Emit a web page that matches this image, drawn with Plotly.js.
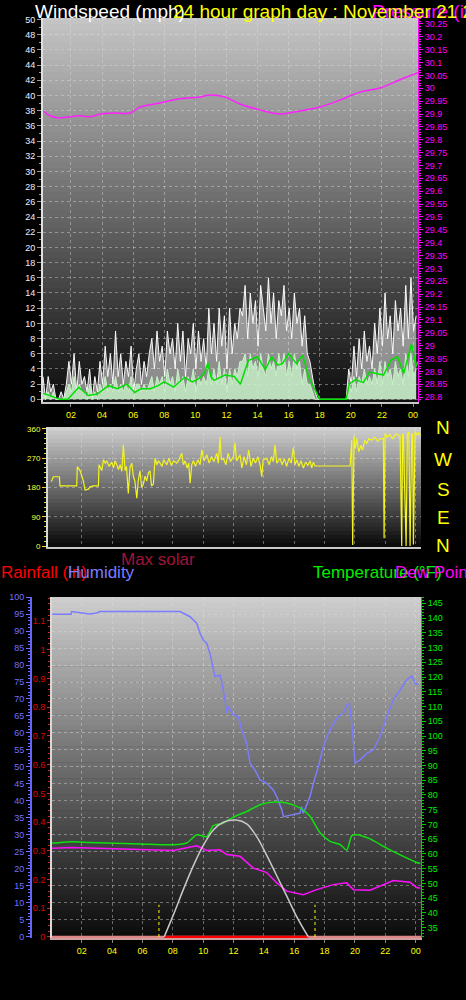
<!DOCTYPE html>
<html><head><meta charset="utf-8">
<script src="https://cdn.plot.ly/plotly-3.0.1.min.js"></script>
<style>html,body{margin:0;padding:0;background:#000;overflow:hidden}#chart{width:466px;height:1000px}</style>
</head><body><div id="chart"></div>
<script>
// ---------- tick labels ----------
const hourTicks = [2,4,6,8,10,12,14,16,18,20,22,24];
const hourLabels = ["02","04","06","08","10","12","14","16","18","20","22","00"];
const dirTicks = [0,90,180,270,360];
const compassLabels = ["N","W","S","E","N"];

// ---------- panel 1: wind (10-minute samples starting 00:12) ----------
const windStartHour = 0.2;
const windStepHour = 1/6;
const windGust = [3,0,3,1,2,0, 0,1,0,2, 5,2,6,1,5,2, 3,1,4,0,3,1, 5,2,7,3,6,2,9,3,
  6,2,5,3,7,1,4,6,2,5,3,6,
  8,4,9,5,7,3,9,6,8,4,10,5,9,3,8,6,10,4,9,5,8,4,
  12,6,10,5,12,7,11,4,12,6,10,8,12,
  11,15,8,14,10,13,7,15,12,9,16,10,14,8,13,11,15,9,12,8,14,10,12,7,11,6,
  5,3,1,0, 0,0,0,0,0,0,0,0,0,0,0,
  4,2,7,3,8,4,9,5,7,4,
  10,6,12,7,14,8,11,6,13,9,12,7,15,8,16,9,11];
const windSpeed = [1,0,1,0,1,0, 0,0,0,1, 2,1,3,1,2,1, 1,0,2,0,1,0, 2,1,3,1,2,1,3,1,
  2,1,2,1,3,0,2,2,1,2,1,2,
  3,1,3,2,3,1,4,2,3,1,4,2,3,1,3,2,4,1,3,2,3,2,
  4,2,4,2,5,2,4,1,4,2,4,3,5,
  5,6,3,6,4,5,3,6,4,3,6,4,5,3,6,4,6,3,5,3,6,4,5,2,4,2,
  2,1,0,0, 0,0,0,0,0,0,0,0,0,0,0,
  2,1,3,1,3,2,4,2,3,2,
  4,2,5,2,5,3,4,2,5,3,4,2,6,3,6,3,4];
const windAvgHour = [0.2,0.6,1.0,1.3,1.8,2.5,3.1,3.7,4.4,5.0,5.6,6.1,6.5,7.1,7.6,8.0,8.6,9.3,9.8,10.2,10.6,10.8,11.0,11.2,11.9,12.5,12.9,13.4,14.0,14.5,14.9,15.3,15.6,16.0,16.5,16.9,17.3,17.8,18.0,19.7,19.9,20.3,20.8,21.2,21.7,22.1,22.6,23.0,23.4,23.9,24.2,24.3];
const windAvgValue = [0.8,0.5,0.3,0,0,1.6,0.5,0.7,1.8,1.4,2.0,0.9,1.4,1.4,1.8,2.3,1.6,2.9,2.3,2.7,3.5,4.8,3.0,2.5,3.2,3.0,2.0,5.1,5.6,3.9,5.6,4.5,4.7,6.0,4.7,5.8,2.9,0.9,0,0,2.0,2.6,2.2,3.6,3.4,3.2,5.2,5.6,3.4,7.3,4.3,5.0];
const pressureHour = [0.2,0.65,1.1,1.94,2.58,3.22,3.87,4.83,5.8,6.44,7.72,9.0,10.3,10.94,11.9,12.87,14.15,15.44,16.73,18.01,19.3,20.59,21.87,23.16,24.32];
const pressureValue = [29.912,29.893,29.885,29.889,29.893,29.889,29.900,29.904,29.904,29.927,29.943,29.959,29.966,29.974,29.966,29.939,29.916,29.900,29.912,29.927,29.954,29.985,30.001,30.033,30.060];

// ---------- panel 2: wind direction ----------
const dirHour = [0.0,0.13,0.53,0.57,1.67,1.71,1.89,2.11,2.22,2.44,2.55,2.77,3.10,3.14,3.32,3.43,3.55,3.65,3.8,3.98,4.1,4.2,4.31,4.42,4.53,4.65,4.74,4.86,4.95,5.07,5.18,5.3,5.4,5.5,5.63,5.72,5.84,5.95,6.06,6.17,6.28,6.39,6.5,6.6,6.72,6.83,6.95,7.05,7.16,7.3,7.4,7.6,7.75,7.9,8.05,8.26,8.4,8.59,8.7,8.81,8.95,9.05,9.14,9.25,9.36,9.5,9.65,9.8,9.91,10.05,10.24,10.4,10.55,10.7,10.9,11.0,11.11,11.2,11.33,11.5,11.65,11.8,12.0,12.1,12.2,12.43,12.55,12.7,12.85,13.0,13.15,13.3,13.45,13.6,13.75,13.86,13.95,14.19,14.35,14.5,14.62,14.74,14.85,15.07,15.2,15.35,15.5,15.65,15.8,15.94,16.05,16.17,16.3,16.45,16.6,16.75,16.9,17.05,17.15,17.26,17.37,19.68,19.79,19.85,19.94,20.02,20.12,20.25,20.4,20.5,20.65,20.78,20.9,21.1,21.3,21.5,21.65,21.87,21.92,21.98,22.1,22.3,22.5,22.7,22.97,23.08,23.14,23.19,23.37,23.45,23.55,23.63,23.74,23.8,23.85,23.96,24.1,24.2,24.33];
const dirValue = [198,213,213,185,185,244,232,200,172,175,182,185,185,250,232,265,255,262,245,258,240,262,250,235,250,230,311,232,245,162,240,255,215,200,147,200,231,180,190,215,200,225,231,185,190,270,250,262,255,245,265,250,270,248,262,255,265,285,250,262,240,255,193,250,262,245,265,250,296,262,280,255,275,260,285,255,336,265,270,250,285,260,275,318,262,280,240,275,250,295,245,270,255,275,250,213,265,270,250,275,260,311,255,270,250,268,245,270,255,303,250,265,245,262,240,258,248,262,240,258,246,246,326,3,339,300,330,290,310,295,325,315,330,325,335,322,330,330,24,347,335,342,330,345,338,0,345,340,0,345,350,0,347,340,5,352,340,348,338];

// ---------- panel 3 ----------
const humHour = [0.05,1.3,1.34,2.1,2.5,2.99,3.2,8.48,8.70,9.14,9.58,9.80,10.02,10.24,10.45,10.67,10.78,11.11,11.22,11.44,11.55,11.66,11.99,12.32,12.54,12.87,13.09,13.42,13.75,14.19,14.63,14.85,15.18,15.29,15.94,16.38,16.49,16.60,16.82,17.04,17.26,17.59,17.92,18.25,18.58,18.91,19.24,19.46,19.63,19.79,20.01,20.34,20.78,21.21,21.65,22.09,22.53,22.97,23.41,23.74,23.96,24.18];
const humValue = [94.9,94.9,95.7,95.2,95.0,95.3,95.7,95.7,95.2,94.2,92.2,89.3,87.3,86.4,83.4,78.5,76.6,77.0,75.1,69.7,65.8,67.8,65.3,64.8,60.9,57.0,51.1,49.1,46.2,45.2,43.2,41.3,37.4,35.4,35.9,36.4,38.3,36.4,38.8,41.3,45.2,50.1,56.0,59.9,62.8,64.8,65.8,68.2,68.7,62.8,51.1,52.1,54.0,55.0,58.9,64.8,69.7,72.6,75.6,76.8,74.6,74.1];
const tempHour = [0.05,0.13,1.34,2.5,5.84,8.04,8.92,9.58,10.24,10.67,11.33,11.99,12.87,13.75,14.63,15.51,16.38,17.04,17.70,18.36,19.02,19.46,19.79,20.12,21.0,22.09,23.19,24.07,24.3];
const tempValue = [63.7,63.7,64.1,63.9,63.4,63.1,63.7,66.5,65.9,69.6,70.5,72.5,74.4,76.7,77.6,77.3,75.6,72.8,67.2,64.3,63.2,61.3,66.2,66.5,65.1,62.0,59.2,57.1,56.8];
const dewHour = [0.05,0.13,1.34,5.84,8.04,9.58,10.24,11.11,11.55,12.43,13.31,14.19,14.85,15.51,16.60,17.48,18.58,19.46,19.90,21.0,22.09,22.53,23.63,24.07,24.3];
const dewValue = [61.9,61.9,62.2,61.4,61.2,62.8,61.2,61.4,59.8,59.2,55.2,53.7,50.2,47.4,46.2,47.9,49.6,50.2,47.9,47.7,50.2,51.0,50.4,48.6,48.4];
const solarHour = [7.43,8.04,8.70,9.36,10.02,10.67,11.33,12.19,12.87,13.53,14.19,14.85,15.51,16.16,16.93];
const solarValue = [0,130,280,420,540,630,675,688,665,590,480,360,240,120,0];
const rainHour = [0.05,24.35];
const rainValue = [0,0];
const daylightHour = [7.43,16.93];
const daylightValue = [0,0];
const sunriseHour = 7.09, sunsetHour = 17.37;

// ---------- helpers ----------
const W = 466, H = 1000;
const X = px => px / W;
const Y = py => 1 - py / H;
const FONT = "Liberation Sans, Arial, sans-serif";
const windTime = windGust.map((_, i) => windStartHour + i * windStepHour);

function gradient(x0, x1, y0, y1, top, bottom, n) {
  const out = [];
  for (let i = 0; i < n; i++) {
    const t = i / (n - 1);
    const g = Math.round(top + (bottom - top) * t);
    const a = y0 + (y1 - y0) * i / n, b = y0 + (y1 - y0) * (i + 1) / n + 0.6;
    out.push({type:'rect', xref:'paper', yref:'paper', layer:'below',
      x0:X(x0), x1:X(x1), y0:Y(Math.min(b, y1)), y1:Y(a),
      fillcolor:`rgb(${g},${g},${g})`, line:{width:0}});
  }
  return out;
}
const shapes = [].concat(
  gradient(43, 418, 18, 402, 196, 14, 64),
  gradient(48, 421, 427, 547, 205, 10, 30),
  gradient(52, 421, 597, 938, 205, 12, 64)
);

const GRID = 'rgba(225,225,225,0.42)';
const traces = [
  {x:windTime, y:windGust, xaxis:'x', yaxis:'y', mode:'lines', line:{color:'rgba(255,255,255,0.95)', width:1}, fill:'tozeroy', fillcolor:'rgba(255,255,255,0.5)', hoverinfo:'skip'},
  {x:windTime, y:windSpeed, xaxis:'x', yaxis:'y', mode:'lines', line:{color:'#c8f2c8', width:1}, fill:'tozeroy', fillcolor:'rgba(200,242,200,0.8)', hoverinfo:'skip'},
  {x:windAvgHour, y:windAvgValue, xaxis:'x', yaxis:'y', mode:'lines', line:{color:'#00e000', width:1.5}},
  {x:pressureHour, y:pressureValue, xaxis:'x', yaxis:'y2', mode:'lines', line:{color:'#ff20ff', width:1.5, shape:'spline'}},
  {x:dirHour, y:dirValue, xaxis:'x2', yaxis:'y3', mode:'lines', line:{color:'#f4f420', width:1.2}},
  {x:rainHour, y:rainValue, xaxis:'x3', yaxis:'y4', mode:'lines', line:{color:'#e08888', width:2.5}},
  {x:daylightHour, y:daylightValue, xaxis:'x3', yaxis:'y4', mode:'lines', line:{color:'#ff0000', width:2.5}},
  {x:[sunriseHour,sunriseHour], y:[0,0.112], xaxis:'x3', yaxis:'y4', mode:'lines', line:{color:'#ffff00', width:1, dash:'dot'}},
  {x:[sunsetHour,sunsetHour], y:[0,0.112], xaxis:'x3', yaxis:'y4', mode:'lines', line:{color:'#ffff00', width:1, dash:'dot'}},
  {x:solarHour, y:solarValue, xaxis:'x3', yaxis:'y7', mode:'lines', line:{color:'#c8c8c8', width:1.5, shape:'spline'}},
  {x:humHour, y:humValue, xaxis:'x3', yaxis:'y5', mode:'lines', line:{color:'#7c7cff', width:1.5}},
  {x:tempHour, y:tempValue, xaxis:'x3', yaxis:'y6', mode:'lines', line:{color:'#10e010', width:1.5, shape:'spline', smoothing:0.6}},
  {x:dewHour, y:dewValue, xaxis:'x3', yaxis:'y6', mode:'lines', line:{color:'#ff10ff', width:1.5}}
];

const xCommon = {tickvals:hourTicks, ticktext:hourLabels, tickfont:{color:'#ffff00', size:9},
  ticks:'outside', ticklen:3, tickcolor:'#888', showline:true, linecolor:'#c8c8c8', linewidth:2,
  showgrid:true, gridcolor:GRID, griddash:'dot', zeroline:false, fixedrange:true};

const layout = {
  width:W, height:H, margin:{l:0,r:0,t:0,b:0},
  paper_bgcolor:'#000', plot_bgcolor:'rgba(0,0,0,0)', showlegend:false,
  font:{family:FONT, size:9, color:'#fff'},
  shapes:shapes,
  xaxis:Object.assign({}, xCommon, {domain:[X(43),X(418)], range:[0.2,24.32], anchor:'y'}),
  yaxis:{anchor:'x', domain:[Y(402),Y(18)], range:[-0.35,50.2], dtick:2, tick0:0, tickfont:{color:'#eef0ff', size:9},
    ticks:'outside', ticklen:4, tickcolor:'#999', minor:{dtick:1, ticks:'outside', ticklen:2, tickcolor:'#999'},
    showline:true, linecolor:'#e0e0e0', linewidth:2, showgrid:true, gridcolor:GRID, griddash:'dot', zeroline:false, fixedrange:true},
  yaxis2:{overlaying:'y', side:'right', anchor:'x', range:[28.781,30.273], dtick:0.05, tick0:28.8,
    tickfont:{color:'#ff00ff', size:9}, ticks:'outside', ticklen:4, tickcolor:'#ff00ff',
    minor:{dtick:0.01, ticks:'outside', ticklen:2, tickcolor:'#ff00ff'},
    showline:true, linecolor:'#ff00ff', linewidth:1, showgrid:false, zeroline:false, fixedrange:true},
  xaxis2:Object.assign({}, xCommon, {domain:[X(48),X(421)], range:[-0.22,24.35], anchor:'y3', showticklabels:false, ticks:''}),
  yaxis3:{anchor:'x2', domain:[Y(547),Y(427)], range:[-3,366], tickvals:dirTicks, tickfont:{color:'#ffff40', size:8},
    ticks:'outside', ticklen:4, tickcolor:'#e0e040', minor:{dtick:15, ticks:'outside', ticklen:2, tickcolor:'#e0e040'},
    showline:true, linecolor:'#d8d8d8', linewidth:2, showgrid:true, gridcolor:GRID, griddash:'dot', zeroline:false, fixedrange:true},
  xaxis3:Object.assign({}, xCommon, {domain:[X(52),X(421)], range:[0.046,24.35], anchor:'y4', linecolor:'#d0a0a0'}),
  yaxis4:{anchor:'x3', domain:[Y(938),Y(597)], range:[-0.0035,1.1835], dtick:0.1, tick0:0, tickfont:{color:'#e00000', size:9},
    ticks:'outside', ticklen:3, tickcolor:'#e02020', minor:{dtick:0.02, ticks:'outside', ticklen:2, tickcolor:'#e02020'},
    showline:true, linecolor:'#d8d8d8', linewidth:2, showgrid:false, zeroline:false, fixedrange:true},
  yaxis5:{overlaying:'y4', side:'left', anchor:'free', position:X(31), range:[-0.3,100], dtick:5, tick0:0,
    tickfont:{color:'#7070ff', size:9}, ticks:'outside', ticklen:4, tickcolor:'#7070ff',
    minor:{dtick:1, ticks:'outside', ticklen:2, tickcolor:'#7070ff'},
    showline:true, linecolor:'#6464ff', linewidth:2, showgrid:true, gridcolor:GRID, griddash:'dot', zeroline:false, fixedrange:true},
  yaxis6:{overlaying:'y4', side:'right', anchor:'x3', range:[31.5,147.14], dtick:5, tick0:35,
    tickfont:{color:'#00ee00', size:9}, ticks:'outside', ticklen:4, tickcolor:'#00cc00',
    minor:{dtick:1, ticks:'outside', ticklen:2, tickcolor:'#00cc00'},
    showline:true, linecolor:'#00cc00', linewidth:1, showgrid:false, zeroline:false, fixedrange:true},
  yaxis7:{overlaying:'y4', anchor:'x3', visible:false, range:[-6,2000], fixedrange:true},
  annotations:[]
};

function label(text, xpx, ypx, color, size, anchor) {
  layout.annotations.push({text:text, xref:'paper', yref:'paper', x:X(xpx), y:Y(ypx),
    xanchor:anchor || 'left', yanchor:'middle', showarrow:false,
    font:{family:FONT, size:size, color:color}});
}
label('Windspeed (mph)', 33, 11, '#ffffff', 19);
label('Pressure (in)', 370, 11, '#ff00ff', 19);
label('24 hour graph day : November 21 2011', 171, 11, '#ffff00', 19);
label('Max solar', 119, 559, '#a0143c', 17);
label('Rainfall (in)', -1, 572, '#ff0000', 17);
label('Humidity', 66, 572, '#7c7cff', 17);
label('Temperature (°F)', 311, 572, '#00ee00', 17);
label('Dew Point (°F)', 393, 572, '#ff00ff', 17);
const compassY = [428, 459, 489, 517, 545];
compassLabels.forEach((c, i) => label(c, 443, compassY[i], '#ffff00', 19, 'center'));

Plotly.newPlot('chart', traces, layout, {staticPlot:true, displayModeBar:false});
</script>
</body></html>
